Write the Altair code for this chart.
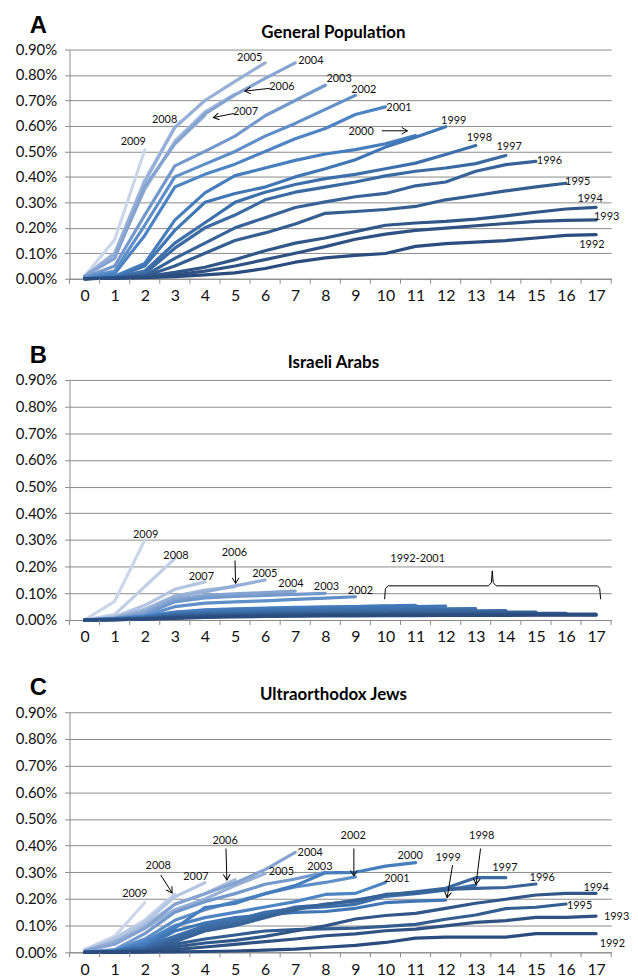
import altair as alt
import pandas as pd

YEARS = list(range(1992, 2010))
AGES = list(range(0, 18))
COLORS = ["#2B4C7E", "#2F5283", "#315789", "#345D90", "#376398", "#3A6AA1",
          "#3D70AA", "#4176B4", "#457DBD", "#4D84C4", "#5F8FC8", "#7398CC",
          "#85A3D1", "#95AFD6", "#A4BADB", "#B3C5E1", "#C0CEE6", "#CBD6EA"]
Y_TICKS = [0.0, 0.1, 0.2, 0.3, 0.4, 0.5, 0.6, 0.7, 0.8, 0.9]

# ---- Panel A: General Population (percent), one row per cohort 1992..2009
GEN = [
    [0, 0.002, 0.004, 0.008, 0.015, 0.023, 0.04, 0.065, 0.082, 0.092, 0.099, 0.127, 0.138, 0.144, 0.15, 0.16, 0.17, 0.173],
    [0, 0.002, 0.005, 0.015, 0.03, 0.05, 0.075, 0.10, 0.126, 0.155, 0.175, 0.19, 0.199, 0.208, 0.217, 0.225, 0.229, 0.231],
    [0, 0.003, 0.008, 0.025, 0.045, 0.075, 0.11, 0.14, 0.16, 0.185, 0.21, 0.219, 0.225, 0.234, 0.247, 0.261, 0.274, 0.28],
    [0, 0.003, 0.01, 0.05, 0.10, 0.15, 0.18, 0.215, 0.257, 0.264, 0.272, 0.284, 0.31, 0.327, 0.345, 0.361, 0.375],
    [0, 0.004, 0.012, 0.08, 0.14, 0.20, 0.24, 0.28, 0.302, 0.322, 0.335, 0.365, 0.38, 0.422, 0.448, 0.461],
    [0, 0.005, 0.02, 0.12, 0.20, 0.25, 0.31, 0.34, 0.36, 0.38, 0.404, 0.422, 0.435, 0.452, 0.484],
    [0, 0.005, 0.03, 0.14, 0.22, 0.30, 0.34, 0.37, 0.393, 0.41, 0.432, 0.454, 0.488, 0.523],
    [0, 0.005, 0.05, 0.19, 0.30, 0.335, 0.36, 0.40, 0.432, 0.467, 0.517, 0.556, 0.597],
    [0, 0.01, 0.06, 0.23, 0.337, 0.405, 0.435, 0.465, 0.49, 0.507, 0.53, 0.562],
    [0, 0.02, 0.17, 0.36, 0.41, 0.45, 0.50, 0.55, 0.59, 0.645, 0.675],
    [0.005, 0.03, 0.21, 0.40, 0.45, 0.50, 0.56, 0.61, 0.665, 0.72],
    [0.005, 0.05, 0.25, 0.443, 0.50, 0.56, 0.64, 0.70, 0.76],
    [0.01, 0.08, 0.36, 0.53, 0.647, 0.722, 0.787, 0.848],
    [0.01, 0.10, 0.38, 0.594, 0.70, 0.775, 0.848],
    [0.01, 0.09, 0.35, 0.54, 0.655, 0.725],
    [0.01, 0.09, 0.36, 0.53, 0.64],
    [0.01, 0.10, 0.39, 0.597],
    [0.01, 0.153, 0.506],
]

# ---- Panel B: Israeli Arabs
ARAB = [
    [0, 0.001, 0.003, 0.006, 0.01, 0.012, 0.013, 0.014, 0.015, 0.015, 0.016, 0.016, 0.017, 0.017, 0.017, 0.018, 0.018, 0.018],
    [0, 0.001, 0.003, 0.008, 0.012, 0.014, 0.015, 0.016, 0.017, 0.018, 0.018, 0.019, 0.019, 0.02, 0.02, 0.02, 0.02, 0.02],
    [0, 0.001, 0.004, 0.01, 0.014, 0.016, 0.017, 0.018, 0.019, 0.02, 0.02, 0.021, 0.021, 0.021, 0.022, 0.022, 0.022, 0.022],
    [0, 0.001, 0.005, 0.012, 0.016, 0.018, 0.02, 0.021, 0.022, 0.023, 0.023, 0.024, 0.024, 0.025, 0.025, 0.025, 0.025],
    [0, 0.002, 0.006, 0.014, 0.019, 0.021, 0.023, 0.024, 0.025, 0.026, 0.027, 0.028, 0.028, 0.029, 0.03, 0.03],
    [0, 0.002, 0.007, 0.017, 0.022, 0.025, 0.027, 0.028, 0.029, 0.03, 0.031, 0.032, 0.033, 0.034, 0.035],
    [0, 0.002, 0.008, 0.02, 0.026, 0.029, 0.031, 0.033, 0.035, 0.036, 0.038, 0.04, 0.042, 0.043],
    [0, 0.003, 0.01, 0.024, 0.031, 0.035, 0.038, 0.04, 0.042, 0.044, 0.047, 0.05, 0.052],
    [0, 0.003, 0.012, 0.028, 0.036, 0.04, 0.043, 0.046, 0.048, 0.05, 0.053, 0.055],
    [0, 0.004, 0.014, 0.03, 0.038, 0.042, 0.045, 0.047, 0.048, 0.05, 0.052],
    [0, 0.005, 0.015, 0.05, 0.063, 0.068, 0.072, 0.077, 0.082, 0.087],
    [0, 0.006, 0.02, 0.068, 0.083, 0.088, 0.092, 0.096, 0.10],
    [0, 0.006, 0.028, 0.078, 0.092, 0.098, 0.103, 0.108],
    [0, 0.008, 0.035, 0.088, 0.105, 0.128, 0.15],
    [0, 0.01, 0.04, 0.09, 0.112, 0.125],
    [0, 0.012, 0.055, 0.115, 0.143],
    [0, 0.02, 0.125, 0.23],
    [0, 0.07, 0.30],
]

# ---- Panel C: Ultraorthodox Jews
ULTRA = [
    [0, 0, 0.001, 0.002, 0.003, 0.005, 0.008, 0.012, 0.019, 0.026, 0.037, 0.053, 0.057, 0.057, 0.057, 0.07, 0.07, 0.07],
    [0, 0.001, 0.002, 0.01, 0.02, 0.03, 0.04, 0.05, 0.062, 0.069, 0.081, 0.087, 0.099, 0.112, 0.119, 0.131, 0.131, 0.136],
    [0, 0.001, 0.005, 0.02, 0.035, 0.045, 0.06, 0.08, 0.099, 0.125, 0.138, 0.146, 0.165, 0.184, 0.199, 0.215, 0.221, 0.221],
    [0, 0.002, 0.006, 0.03, 0.05, 0.065, 0.08, 0.085, 0.088, 0.091, 0.097, 0.105, 0.124, 0.14, 0.164, 0.169, 0.181],
    [0, 0.002, 0.01, 0.04, 0.08, 0.10, 0.13, 0.16, 0.181, 0.192, 0.217, 0.223, 0.236, 0.24, 0.243, 0.256],
    [0, 0.003, 0.015, 0.05, 0.09, 0.11, 0.14, 0.17, 0.178, 0.196, 0.215, 0.227, 0.24, 0.28, 0.28],
    [0, 0.003, 0.02, 0.06, 0.10, 0.12, 0.15, 0.165, 0.17, 0.18, 0.21, 0.22, 0.233, 0.252],
    [0, 0.004, 0.02, 0.08, 0.11, 0.13, 0.14, 0.15, 0.153, 0.165, 0.186, 0.192, 0.196],
    [0, 0.005, 0.03, 0.09, 0.168, 0.183, 0.22, 0.25, 0.298, 0.30, 0.323, 0.336],
    [0, 0.006, 0.04, 0.10, 0.13, 0.15, 0.17, 0.19, 0.217, 0.221, 0.262],
    [0, 0.008, 0.05, 0.12, 0.16, 0.19, 0.22, 0.245, 0.262, 0.283],
    [0, 0.01, 0.07, 0.15, 0.19, 0.22, 0.255, 0.275, 0.30],
    [0.005, 0.03, 0.09, 0.18, 0.22, 0.26, 0.31, 0.375],
    [0.005, 0.04, 0.09, 0.16, 0.20, 0.25, 0.295],
    [0.005, 0.04, 0.10, 0.18, 0.22, 0.272],
    [0.005, 0.05, 0.11, 0.208, 0.261],
    [0.01, 0.053, 0.12, 0.218],
    [0.01, 0.06, 0.186],
]

# ---- annotations (label text, age, rate)
LABELS_A = [("2005", 5.49, 0.867), ("2004", 7.52, 0.854), ("2006", 6.56, 0.753),
            ("2007", 5.35, 0.653), ("2008", 2.66, 0.624), ("2009", 1.62, 0.536),
            ("2003", 8.46, 0.783), ("2002", 9.28, 0.74), ("2001", 10.45, 0.672),
            ("2000", 9.19, 0.578), ("1999", 12.27, 0.62), ("1998", 13.12, 0.553),
            ("1997", 14.11, 0.517), ("1996", 15.45, 0.462), ("1995", 16.39, 0.38),
            ("1994", 16.8, 0.312), ("1993", 17.35, 0.244), ("1992", 16.86, 0.134)]
ARROWS_A = [(6.17, 0.748, 5.33, 0.737, 174), (4.96, 0.649, 4.28, 0.633, 169),
            (9.88, 0.581, 10.73, 0.581, 0)]

LABELS_B = [("2009", 2.03, 0.32), ("2008", 3.04, 0.239), ("2007", 3.88, 0.161),
            ("2006", 4.98, 0.252), ("2005", 5.99, 0.174), ("2004", 6.86, 0.133),
            ("2003", 8.04, 0.124), ("2002", 9.17, 0.109), ("1992-2001", 11.07, 0.23)]
ARROWS_B = [(5.0, 0.223, 5.02, 0.137, 90)]
BRACE_X = [9.97, 10.0, 10.1, 13.42, 13.52, 13.55, 13.58, 13.68, 17.05, 17.12, 17.15]
BRACE_Y = [0.078, 0.118, 0.128, 0.128, 0.14, 0.184, 0.14, 0.128, 0.128, 0.118, 0.078]

LABELS_C = [("2009", 1.67, 0.219), ("2008", 2.45, 0.323), ("2007", 3.7, 0.281),
            ("2006", 4.67, 0.417), ("2005", 6.54, 0.30), ("2004", 7.5, 0.374),
            ("2003", 7.82, 0.32), ("2002", 8.93, 0.435), ("2000", 10.82, 0.36),
            ("2001", 10.38, 0.273), ("1999", 12.08, 0.355), ("1998", 13.2, 0.435),
            ("1997", 13.97, 0.317), ("1996", 15.21, 0.277), ("1994", 17.0, 0.242),
            ("1995", 16.45, 0.175), ("1993", 17.68, 0.132), ("1992", 17.54, 0.031)]
ARROWS_C = [(2.53, 0.29, 2.91, 0.223, 57), (4.7, 0.389, 4.73, 0.271, 88),
            (8.95, 0.389, 8.95, 0.286, 90), (12.23, 0.327, 12.05, 0.205, 99),
            (13.16, 0.389, 13.01, 0.255, 97)]

GRAY = "#8A8A8A"
FONT = "Lato"
W = 546
ARROW_HEAD = "M-1,-0.6L0,0L-1,0.6"


def panel(rows, labels, arrows, title, letter, h, x_extent, brace=None):
    recs = []
    for yr, vals in reversed(list(zip(YEARS, rows))):
        for a, v in zip(AGES, vals):
            recs.append({"cohort": str(yr), "age": a, "rate": v})
    df = pd.DataFrame(recs)

    xs = alt.Scale(domain=[-0.5, 17.5], nice=False, zero=False)
    ys = alt.Scale(domain=[0, 0.9], nice=False, zero=True)

    x_axis = alt.Axis(values=AGES, title=None, grid=False, ticks=False, tickSize=0,
                      domainColor=GRAY, domainWidth=1, labelFont=FONT, labelFontSize=16,
                      labelColor="#111", labelPadding=9, minExtent=x_extent,
                      maxExtent=x_extent, labelFlush=False, labelOverlap=False)
    y_axis = alt.Axis(values=Y_TICKS, title=None, grid=True, gridColor=GRAY, gridWidth=1,
                      tickColor=GRAY, tickSize=5, domainColor=GRAY,
                      labelExpr="format(datum.value, '.2f') + '%'", labelFont=FONT,
                      labelFontSize=15, labelColor="#111", labelPadding=8,
                      minExtent=57, maxExtent=57, labelOverlap=False)

    def X(field):
        return alt.X(field, scale=xs, axis=x_axis)

    def Y(field):
        return alt.Y(field, scale=ys, axis=y_axis)

    lines = alt.Chart(df).mark_line(strokeWidth=3.2, strokeJoin="round", strokeCap="round").encode(
        x=X("age:Q"),
        y=Y("rate:Q"),
        color=alt.Color("cohort:N", scale=alt.Scale(domain=[str(y) for y in YEARS], range=COLORS),
                        legend=None),
        order=alt.Order("age:Q"),
    )

    bounds = pd.DataFrame({"b": [a - 0.5 for a in AGES] + [AGES[-1] + 0.5]})
    xticks = alt.Chart(bounds).mark_rule(color=GRAY, strokeWidth=1).encode(
        x=X("b:Q"), y=alt.value(h), y2=alt.value(h + 5))

    ldf = pd.DataFrame(labels, columns=["t", "x", "y"])
    texts = alt.Chart(ldf).mark_text(font=FONT, fontSize=11, color="#111",
                                     align="center", baseline="middle").encode(
        x=X("x:Q"), y=Y("y:Q"), text="t:N")

    layers = [lines, xticks, texts]

    if arrows:
        adf = pd.DataFrame(arrows, columns=["x1", "y1", "x2", "y2", "ang"])
        shafts = alt.Chart(adf).mark_rule(color="#000", strokeWidth=1).encode(
            x=X("x1:Q"), y=Y("y1:Q"), x2="x2:Q", y2="y2:Q")
        heads = alt.Chart(adf).mark_point(shape=ARROW_HEAD, filled=False, color="#000",
                                          strokeWidth=1, size=130, opacity=1).encode(
            x=X("x2:Q"), y=Y("y2:Q"), angle=alt.Angle("ang:Q", scale=None))
        layers += [shafts, heads]

    if brace is not None:
        bdf = pd.DataFrame({"x": brace[0], "y": brace[1], "i": list(range(len(brace[0])))})
        br = alt.Chart(bdf).mark_line(color="#000", strokeWidth=1).encode(
            x=X("x:Q"), y=Y("y:Q"), order="i:Q")
        layers.append(br)

    ttl = alt.Chart(pd.DataFrame({"t": [title]})).mark_text(
        font=FONT, fontSize=17, fontWeight="bold", color="#000", align="center",
        baseline="alphabetic").encode(x=alt.value(266), y=alt.value(-12), text="t:N")
    let = alt.Chart(pd.DataFrame({"t": [letter]})).mark_text(
        font="Liberation Sans", fontSize=24, fontWeight="bold", color="#000", align="left",
        baseline="alphabetic").encode(x=alt.value(-40), y=alt.value(-17), text="t:N")
    layers += [ttl, let]

    return alt.layer(*layers).properties(width=W, height=h)


pa = panel(GEN, LABELS_A, ARROWS_A, "General Population", "A", 231, 66)
pb = panel(ARAB, LABELS_B, ARROWS_B, "Israeli Arabs", "B", 242, 57, brace=(BRACE_X, BRACE_Y))
pc = panel(ULTRA, LABELS_C, ARROWS_C, "Ultraorthodox Jews", "C", 242, 26)

chart = alt.vconcat(pa, pb, pc, spacing=0).properties(
    padding={"left": 5, "top": 2, "right": 0, "bottom": 0},
    background="#ffffff",
).configure_view(stroke=None)

chart.save("out.html", embed_options={"renderer": "svg", "actions": False})
